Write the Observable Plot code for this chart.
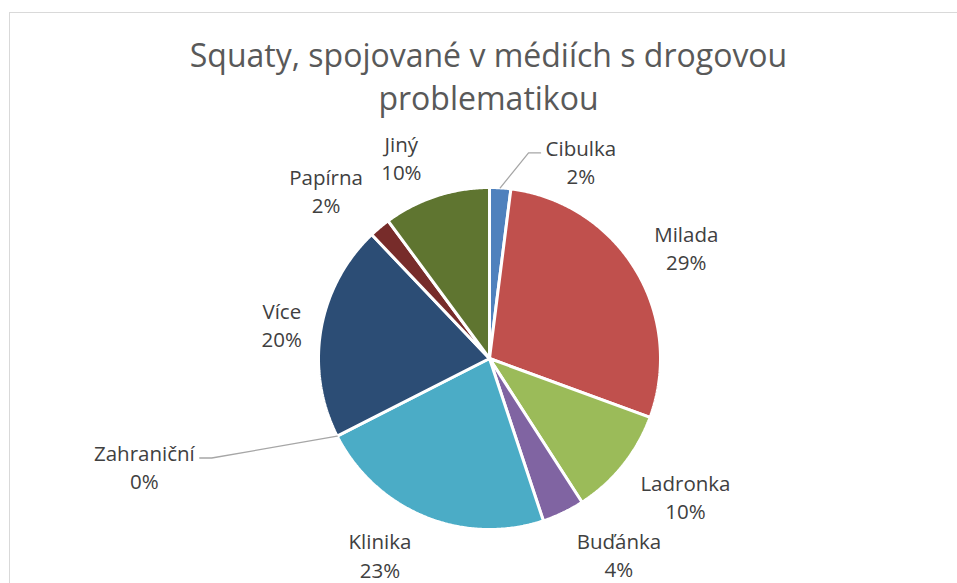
<!DOCTYPE html>
<html>
<head>
<meta charset="utf-8">
<script src="https://cdn.jsdelivr.net/npm/d3@7"></script>
<script src="https://cdn.jsdelivr.net/npm/@observablehq/plot@0.6"></script>
<style>
  html, body { margin: 0; padding: 0; background: #fff; }
  #wrap { position: relative; width: 957px; height: 583px; overflow: hidden; background: #fff; }
  #frame { position: absolute; left: 9px; top: 12px; width: 1100px; height: 1100px; border: 1px solid #d9d9d9; box-sizing: border-box; }
  #title { position: absolute; left: 20px; width: 937px; top: 33px; text-align: center;
           font-family: "Open Sans", Lato, sans-serif; font-weight: 400; font-size: 32px; line-height: 43px; color: #595959; }
  #chart { position: absolute; left: 0; top: 0; }
</style>
</head>
<body>
<div id="wrap">
  <div id="frame"></div>
  <div id="chart"></div>
  <div id="title">Squaty, spojované v médiích s drogovou<br>problematikou</div>
</div>
<script>
// ---- data ----
const names  = ["Cibulka", "Milada", "Ladronka", "Buďánka", "Klinika", "Zahraniční", "Více", "Papírna", "Jiný"];
const values = [2, 28.6, 10.3, 4, 22.6, 0, 20.4, 2, 10.1];
const colors = ["#4F81BD", "#C0504D", "#9BBB59", "#8064A2", "#4BACC6", "#F79646", "#2C4D75", "#772C2A", "#5F7530"];

// ---- layout (label nudges in px, leader-line labels) ----
const labelRadius = 228;      // px from centre
const labelNudge = {
  "Cibulka": [77, 30], "Milada": [2, 7], "Ladronka": [18, -5], "Buďánka": [31, -10],
  "Klinika": [-23, -15], "Zahraniční": [-142, 4], "Více": [17, 4], "Papírna": [-17, 6], "Jiný": [-17, 15]
};
const leaderSide = { "Cibulka": "right", "Zahraniční": "left" };

const W = 957, H = 583;
const R = 171;                // pie radius in px
const cx = 489, cy = 358;     // pie centre in px
const px = 1 / R;             // one pixel in data units
const fontSize = 20.5;
const fontFamily = '"Open Sans", Lato, sans-serif';
const labelFont = `${fontSize}px ${fontFamily}`;

const total = d3.sum(values);
const pie = d3.pie().sort(null).value(d => d.value);
const arcs = pie(names.map((n, i) => ({ name: n, value: values[i] })));

// slice polygons
const slicePts = [];
for (const a of arcs) {
  if (a.data.value <= 0) continue;
  slicePts.push({ name: a.data.name, x: 0, y: 0 });
  const n = Math.max(2, Math.ceil((a.endAngle - a.startAngle) / (Math.PI / 360)));
  for (let k = 0; k <= n; k++) {
    const t = a.startAngle + (a.endAngle - a.startAngle) * k / n;
    slicePts.push({ name: a.data.name, x: Math.sin(t), y: Math.cos(t) });
  }
}

// text measurement
const ctx = document.createElement("canvas").getContext("2d");
ctx.font = labelFont;

const labels = [];
const leaderPts = [];
for (const a of arcs) {
  const name = a.data.name;
  const mid = (a.startAngle + a.endAngle) / 2;
  const nd = labelNudge[name] || [0, 0];
  const lx = Math.sin(mid) * labelRadius * px + nd[0] * px;
  const ly = Math.cos(mid) * labelRadius * px - nd[1] * px;
  const pct = Math.round(a.data.value / total * 100);
  labels.push({ name, x: lx, y: ly, text: `${name}\n${pct}%` });
  const side = leaderSide[name];
  if (side) {
    const hw = Math.max(ctx.measureText(name).width, ctx.measureText(pct + "%").width) / 2;
    const lineY = ly + 8 * px;
    const sgn = side === "right" ? -1 : 1;
    const endX = lx + sgn * (hw + 5) * px;
    const elbowX = endX + sgn * 12 * px;
    leaderPts.push({ name, x: Math.sin(mid), y: Math.cos(mid) });
    leaderPts.push({ name, x: elbowX, y: lineY });
    leaderPts.push({ name, x: endX, y: lineY });
  }
}

const chart = Plot.plot({
  width: W,
  height: H,
  marginLeft: cx - R,
  marginRight: W - (cx + R),
  marginTop: cy - R,
  marginBottom: H - (cy + R),
  x: { domain: [-1, 1], axis: null },
  y: { domain: [-1, 1], axis: null },
  color: { domain: names, range: colors },
  style: { background: "transparent", overflow: "visible" },
  marks: [
    Plot.line(slicePts, { x: "x", y: "y", z: "name", fill: "name", stroke: "#ffffff", strokeWidth: 3, curve: "linear-closed", strokeLinejoin: "miter" }),
    Plot.line(leaderPts, { x: "x", y: "y", z: "name", stroke: "#a6a6a6", strokeWidth: 1.3 }),
    Plot.text(labels, { x: "x", y: "y", text: "text", fill: "#404040", fontSize: fontSize, lineHeight: 1.38, textAnchor: "middle", fontFamily: fontFamily })
  ]
});
document.getElementById("chart").appendChild(chart);
</script>
</body>
</html>
